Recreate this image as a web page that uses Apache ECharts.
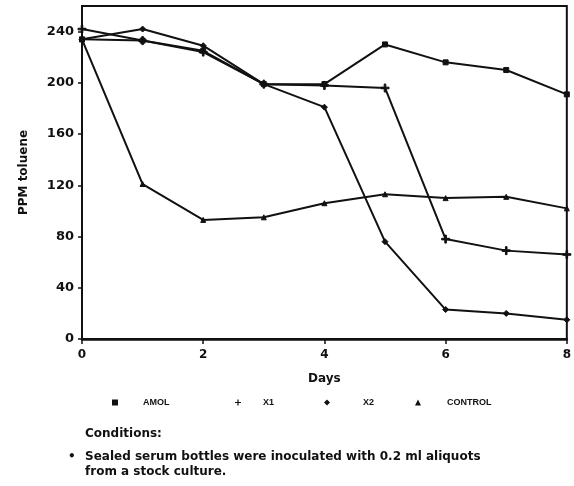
<!DOCTYPE html>
<html>
<head>
<meta charset="utf-8">
<script src="https://cdn.jsdelivr.net/npm/echarts@6/dist/echarts.min.js"></script>
<style>
html,body{margin:0;padding:0;background:#fff;}
#chart{width:574px;height:486px;}
</style>
</head>
<body>
<div id="chart"></div>
<script>
// Data
var days = [0, 1, 2, 3, 4, 5, 6, 7, 8];
var amol = [234, 233, 225, 199, 199, 230, 216, 210, 191];
var x1 = [242, 233, 224, 199, 198, 196, 78, 69, 66];
var x2 = [234, 242, 229, 199, 181, 76, 23, 20, 15];
var control = [234, 121, 93, 95, 106, 113, 110, 111, 102];
var yTicks = [0, 40, 80, 120, 160, 200, 240];
var xTicks = [0, 2, 4, 6, 8];
var seriesNames = ['AMOL', 'X1', 'X2', 'CONTROL'];

var plusPath = 'path://M4,0H6V4H10V6H6V10H4V6H0V4H4Z';
var symbols = ['rect', plusPath, 'diamond', 'triangle'];
var symbolSizes = [5, 8, 6, 5];
var values = [amol, x1, x2, control];

function pairs(v) { return days.map(function (d, i) { return [d, v[i]]; }); }

var ink = '#111';
var fontAxis = 'DejaVu Sans';
var fontNote = 'Liberation Sans';

var series = seriesNames.map(function (n, i) {
  return {
    name: n,
    type: 'line',
    data: pairs(values[i]),
    symbol: symbols[i],
    symbolSize: symbolSizes[i],
    lineStyle: { color: ink, width: 2 },
    itemStyle: { color: ink, borderColor: ink },
    animation: false,
    z: 3
  };
});

var legendPos = [
  { left: 112, pad: 20 },
  { left: 235, pad: 17 },
  { left: 324, pad: 28 },
  { left: 415, pad: 21 }
];
var legends = seriesNames.map(function (n, i) {
  return {
    data: [{ name: n, icon: symbols[i] }],
    left: legendPos[i].left,
    top: 398,
    padding: 0,
    itemWidth: 6,
    itemHeight: 6,
    selectedMode: false,
    itemStyle: { color: ink },
    textStyle: { fontFamily: fontNote, fontWeight: 'bold', fontSize: 9, color: ink, padding: [0, 0, 0, legendPos[i].pad] }
  };
});

var noteFont = 'bold 12px "DejaVu Sans"';

var chart = echarts.init(document.getElementById('chart'), null, { renderer: 'canvas' });
chart.setOption({
  backgroundColor: '#fff',
  animation: false,
  grid: { left: 82, right: 4, top: 6, bottom: 147, show: true, borderColor: ink, borderWidth: 2, backgroundColor: 'transparent' },
  legend: legends,
  xAxis: {
    type: 'value',
    min: 0, max: 8, interval: 2,
    name: 'Days',
    nameLocation: 'middle',
    nameGap: 34,
    nameTextStyle: { fontFamily: fontAxis, fontWeight: 'bold', fontSize: 12, color: ink },
    axisLine: { show: true, lineStyle: { color: ink, width: 2.5 } },
    axisTick: { show: true, inside: false, length: 5, lineStyle: { color: ink, width: 1.5 }, customValues: xTicks },
    axisLabel: { margin: 10, fontFamily: fontAxis, fontWeight: 'bold', fontSize: 12, color: ink, customValues: xTicks },
    splitLine: { show: false }
  },
  yAxis: {
    type: 'value',
    min: 0, max: 260, interval: 40,
    name: 'PPM toluene',
    nameLocation: 'middle',
    nameGap: 52,
    nameRotate: 90,
    nameTextStyle: { fontFamily: fontAxis, fontWeight: 'bold', fontSize: 12, color: ink },
    axisLine: { show: true, lineStyle: { color: ink, width: 2 } },
    axisTick: { show: true, inside: false, length: 4, lineStyle: { color: ink, width: 1.5 }, customValues: yTicks },
    axisLabel: { margin: 8, fontFamily: fontAxis, fontWeight: 'bold', fontSize: 13, color: ink, customValues: yTicks },
    splitLine: { show: false }
  },
  series: series,
  graphic: [
    { type: 'text', left: 85, top: 428, style: { text: 'Conditions:', font: noteFont, fill: ink } },
    { type: 'text', left: 68, top: 451, style: { text: '•', font: noteFont, fill: ink } },
    { type: 'text', left: 85, top: 451, style: { text: 'Sealed serum bottles were inoculated with 0.2 ml aliquots', font: noteFont, fill: ink } },
    { type: 'text', left: 85, top: 466, style: { text: 'from a stock culture.', font: noteFont, fill: ink } }
  ]
});
</script>
</body>
</html>
